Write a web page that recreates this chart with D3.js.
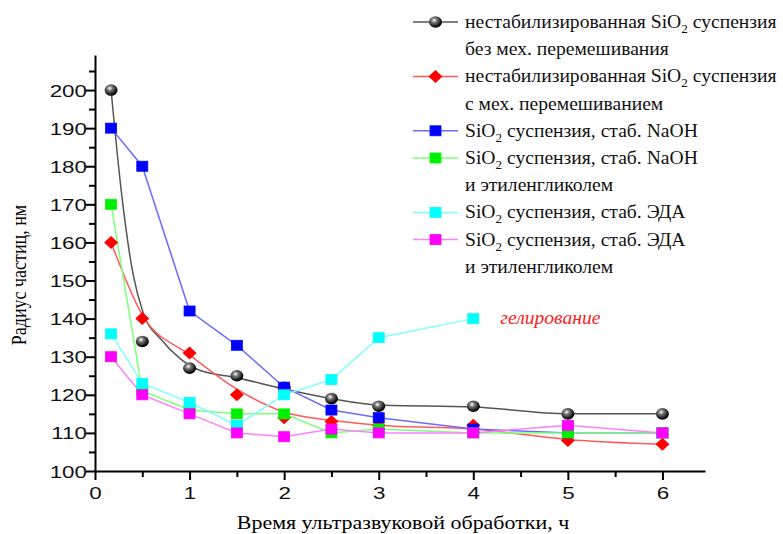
<!DOCTYPE html>
<html>
<head>
<meta charset="utf-8">
<script src="https://cdn.jsdelivr.net/npm/d3@7"></script>
<style>
  body { margin: 0; background: #fff; }
  svg { display: block; }
</style>
</head>
<body>
<div id="chart"></div>
<script>
// данные
let timeX = [0.17, 0.5, 1, 1.5, 2, 2.5, 3, 4, 5, 6]
let blackY = [200, 134, 127, 125, 122, 119, 117, 117, 115, 115]
let redY = [160, 140, 131, 120, 114, 113, 112, 112, 108, 107]
let blueY = [190, 180, 142, 133, 122, 116, 114, 111, 110, 110]
let greenY = [170, 121, 116, 115, 115, 110, 111, 110, 110, 110]
let cyanX = [0.17, 0.5, 1, 1.5, 2, 2.5, 3, 4]
let cyanY = [136, 123, 118, 112, 120, 124, 135, 140]
let magentaY = [130, 120, 115, 110, 109, 111, 110, 110, 112, 110]
// сглаженные (аппроксимирующие) кривые
let blackFitX = [0.17, 0.28, 0.4, 0.51, 0.7, 0.9, 1.1, 1.5, 2, 2.5, 3, 4, 5, 6]
let blackFitY = [200, 173, 152, 141.5, 134.5, 129.5, 126.5, 124.5, 121.5, 119, 117.3, 116.8, 115, 115]
let redFitX = [0.17, 0.5, 1, 1.5, 2, 2.5, 3, 4, 5, 6]
let redFitY = [160, 141, 130.5, 121.5, 115.5, 113.3, 112, 111, 108.3, 107]

let xTicks = [0, 1, 2, 3, 4, 5, 6]
let xMinor = [0.5, 1.5, 2.5, 3.5, 4.5, 5.5]
let yTicks = [100, 110, 120, 130, 140, 150, 160, 170, 180, 190, 200]
let yMinor = [105, 115, 125, 135, 145, 155, 165, 175, 185, 195, 205]

let legendLines = [
  ['нестабилизированная SiO|2| суспензия', 'без мех. перемешивания'],
  ['нестабилизированная SiO|2| суспензия', 'с мех. перемешиванием'],
  ['SiO|2| суспензия, стаб. NaOH'],
  ['SiO|2| суспензия, стаб. NaOH', 'и этиленгликолем'],
  ['SiO|2| суспензия, стаб. ЭДА'],
  ['SiO|2| суспензия, стаб. ЭДА', 'и этиленгликолем']
]

//стиль
let w = 783, h = 534
let SX = 1.22   // картинка растянута по горизонтали
let SXleg = 1.09
let SXtick = 1.4
let serif = '"Liberation Serif", "Times New Roman", serif'
let sans = '"Liberation Sans", Arial, sans-serif'

let series = [
  {x: timeX, y: blackY, fx: blackFitX, fy: blackFitY, line: '#555', fill: '#000', shape: 'ball'},
  {x: timeX, y: redY, fx: redFitX, fy: redFitY, line: '#ff5a5a', fill: '#ff0000', shape: 'diamond'},
  {x: timeX, y: blueY, line: '#6b6bff', fill: '#0000ff', shape: 'square'},
  {x: timeX, y: greenY, line: '#7dff7d', fill: '#00ee00', shape: 'square'},
  {x: cyanX, y: cyanY, line: '#80ffff', fill: '#00ffff', shape: 'square'},
  {x: timeX, y: magentaY, line: '#ff80ff', fill: '#ff00ff', shape: 'square'}
]

let svg = d3.select('#chart').append('svg')
  .attr('width', w)
  .attr('height', h)

let defs = svg.append('defs')
let grad = defs.append('radialGradient')
  .attr('id', 'ball')
  .attr('cx', '40%').attr('cy', '35%').attr('r', '60%')
grad.append('stop').attr('offset', '0%').attr('stop-color', '#fff')
grad.append('stop').attr('offset', '35%').attr('stop-color', '#777')
grad.append('stop').attr('offset', '100%').attr('stop-color', '#000')

let xScale = d3.scaleLinear().domain([0, 6.45]).range([95, 705])
let yScale = d3.scaleLinear().domain([100, 209.2]).range([471, 55])

// оси
let xAxis = svg.append('g')
  .attr('transform', `translate(0, ${yScale(100)})`)
  .call(d3.axisBottom(xScale).tickValues(xTicks).tickSize(9).tickSizeOuter(0).tickFormat(d3.format('d')))
xAxis.append('g')
  .call(d3.axisBottom(xScale).tickValues(xMinor).tickSize(6).tickSizeOuter(0).tickFormat(''))
  .select('.domain').remove()

let yAxis = svg.append('g')
  .attr('transform', `translate(${xScale(0)}, 0)`)
  .call(d3.axisLeft(yScale).tickValues(yTicks).tickSize(9).tickSizeOuter(0).tickFormat(d3.format('d')))
yAxis.append('g')
  .call(d3.axisLeft(yScale).tickValues(yMinor).tickSize(6).tickSizeOuter(0).tickFormat(''))
  .select('.domain').remove()

svg.selectAll('.domain').attr('stroke', '#000').attr('stroke-width', 2)
svg.selectAll('.tick line').attr('stroke', '#000').attr('stroke-width', 2)

// подписи делений растянуты как на картинке
xAxis.selectAll('.tick text')
  .attr('y', 0).attr('dy', 0)
  .attr('font-family', sans).attr('font-size', 16).attr('fill', '#111')
  .attr('text-anchor', 'middle')
  .attr('transform', `translate(0, 28) scale(${SXtick}, 1)`)
yAxis.selectAll('.tick text')
  .attr('x', 0).attr('dy', 0)
  .attr('font-family', sans).attr('font-size', 16).attr('fill', '#111')
  .attr('text-anchor', 'end')
  .attr('transform', `translate(-8, 6) scale(${SXtick}, 1)`)

// названия осей
svg.append('text')
  .text('Время ультразвуковой обработки, ч')
  .attr('font-family', serif).attr('font-size', 18)
  .attr('text-anchor', 'middle')
  .attr('transform', `translate(403, 529) scale(${SX}, 1)`)
svg.append('text')
  .text('Радиус частиц, нм')
  .attr('font-family', serif).attr('font-size', 18)
  .attr('text-anchor', 'middle')
  .attr('transform', `translate(26, 275) scale(${SX}, 1) rotate(-90)`)

// линии
let plot = svg.append('g')
let lineGen = d3.line()
series.forEach(s => {
  let pts = s.fx ? s.fx.map((v, i) => [xScale(v), yScale(s.fy[i])]) : s.x.map((v, i) => [xScale(v), yScale(s.y[i])])
  plot.append('path')
    .attr('d', lineGen.curve(s.fx ? d3.curveMonotoneX : d3.curveLinear)(pts))
    .attr('fill', 'none')
    .attr('stroke', s.line)
    .attr('stroke-width', 1.5)
})

// маркеры
let drawMarker = (g, shape, fill) => {
  if (shape === 'ball') {
    g.append('ellipse').attr('rx', 6.5).attr('ry', 5.8).attr('fill', 'url(#ball)')
  } else if (shape === 'diamond') {
    g.append('path').attr('d', 'M-7,0L0,-6.5L7,0L0,6.5Z').attr('fill', fill)
  } else {
    g.append('rect').attr('x', -5.5).attr('y', -5).attr('width', 11).attr('height', 10)
      .attr('fill', fill).attr('stroke', d3.color(fill).brighter(0.6)).attr('stroke-width', 0.8)
  }
}
series.forEach(s => {
  plot.append('g').selectAll('g')
    .data(s.x.map((v, i) => [v, s.y[i]]))
    .enter()
    .append('g')
    .attr('transform', d => `translate(${xScale(d[0])}, ${yScale(d[1])})`)
    .each(function () { drawMarker(d3.select(this), s.shape, s.fill) })
})

// надпись "гелирование"
svg.append('text')
  .text('гелирование')
  .attr('font-family', serif).attr('font-size', 18).attr('font-style', 'italic')
  .attr('fill', '#ff2020')
  .attr('transform', `translate(${xScale(4) + 27}, ${yScale(140) + 5}) scale(${SXleg}, 1)`)

// легенда
let rowH = 27.2
let row = 0
let legend = svg.append('g')
legendLines.forEach((lines, k) => {
  let s = series[k]
  let cy = 22 + row * rowH
  legend.append('line')
    .attr('x1', 413).attr('x2', 458).attr('y1', cy).attr('y2', cy)
    .attr('stroke', s.line).attr('stroke-width', 1.5)
  let mg = legend.append('g').attr('transform', `translate(435.5, ${cy})`)
  drawMarker(mg, s.shape, s.fill)
  lines.forEach(str => {
    let y = 22 + row * rowH
    let t = legend.append('text')
      .attr('font-family', serif).attr('font-size', 18).attr('fill', '#111')
      .attr('transform', `translate(465, ${y + 6}) scale(${SXleg}, 1)`)
    str.split('|').forEach((part, j) => {
      let sp = t.append('tspan').text(part)
      if (j === 1) sp.attr('font-size', 12).attr('dy', 5)
      if (j === 2) sp.attr('dy', -5)
    })
    row++
  })
})
</script>
</body>
</html>
